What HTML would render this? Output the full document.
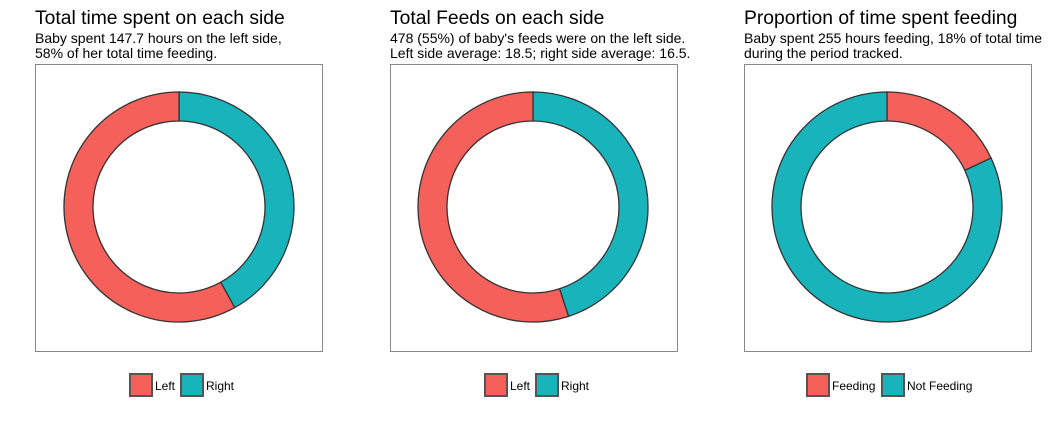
<!DOCTYPE html>
<html><head><meta charset="utf-8"><style>
html,body{margin:0;padding:0;background:#fff;}
svg{display:block;font-family:"Liberation Sans",Arial,sans-serif;}
</style></head><body>
<svg width="1063" height="421" viewBox="0 0 1063 421" xmlns="http://www.w3.org/2000/svg">
<g fill="#000">
<text x="35" y="24" font-size="19.3">Total time spent on each side</text>
<text x="35" y="43" font-size="14">Baby spent 147.7 hours on the left side,</text>
<text x="35" y="58" font-size="14">58% of her total time feeding.</text>
<text x="390" y="24" font-size="19.3">Total Feeds on each side</text>
<text x="390" y="43" font-size="14">478 (55%) of baby's feeds were on the left side.</text>
<text x="390" y="58" font-size="14">Left side average: 18.5; right side average: 16.5.</text>
<text x="744" y="24" font-size="19.3">Proportion of time spent feeding</text>
<text x="744" y="43" font-size="14">Baby spent 255 hours feeding, 18% of total time</text>
<text x="744" y="58" font-size="14">during the period tracked.</text>
</g>
<g fill="none" stroke="#888" stroke-width="1">
<rect x="35.5" y="64.5" width="287" height="287"/>
<rect x="390.5" y="64.5" width="287" height="287"/>
<rect x="744.5" y="64.5" width="287" height="287"/>
</g>
<g stroke="#333" stroke-width="1.3">
<path fill="#19b4bb" d="M179,92 A115 115 0 0 1 234.75,307.58 L220.69,282.22 A86 86 0 0 0 179,121 Z"/>
<path fill="#f5605b" d="M234.75,307.58 A115 115 0 1 1 179,92 L179,121 A86 86 0 1 0 220.69,282.22 Z"/>
<path fill="#19b4bb" d="M533,92 A115 115 0 0 1 568.54,316.37 L559.57,288.79 A86 86 0 0 0 533,121 Z"/>
<path fill="#f5605b" d="M568.54,316.37 A115 115 0 1 1 533,92 L533,121 A86 86 0 1 0 559.57,288.79 Z"/>
<path fill="#f5605b" d="M887,92 A115 115 0 0 1 991.05,158.04 L964.81,170.38 A86 86 0 0 0 887,121 Z"/>
<path fill="#19b4bb" d="M991.05,158.04 A115 115 0 1 1 887,92 L887,121 A86 86 0 1 0 964.81,170.38 Z"/>
</g>
<g stroke="#555" stroke-width="2">
<rect x="130" y="374" width="22" height="22" fill="#f5605b"/>
<rect x="181" y="374" width="22" height="22" fill="#19b4bb"/>
<rect x="485" y="374" width="22" height="22" fill="#f5605b"/>
<rect x="536" y="374" width="22" height="22" fill="#19b4bb"/>
<rect x="807" y="374" width="22" height="22" fill="#f5605b"/>
<rect x="882" y="374" width="22" height="22" fill="#19b4bb"/>
</g>
<g font-size="12" fill="#000">
<text x="155" y="390">Left</text>
<text x="206" y="390">Right</text>
<text x="510" y="390">Left</text>
<text x="561" y="390">Right</text>
<text x="832" y="390">Feeding</text>
<text x="907" y="390">Not Feeding</text>
</g>
</svg>
</body></html>
